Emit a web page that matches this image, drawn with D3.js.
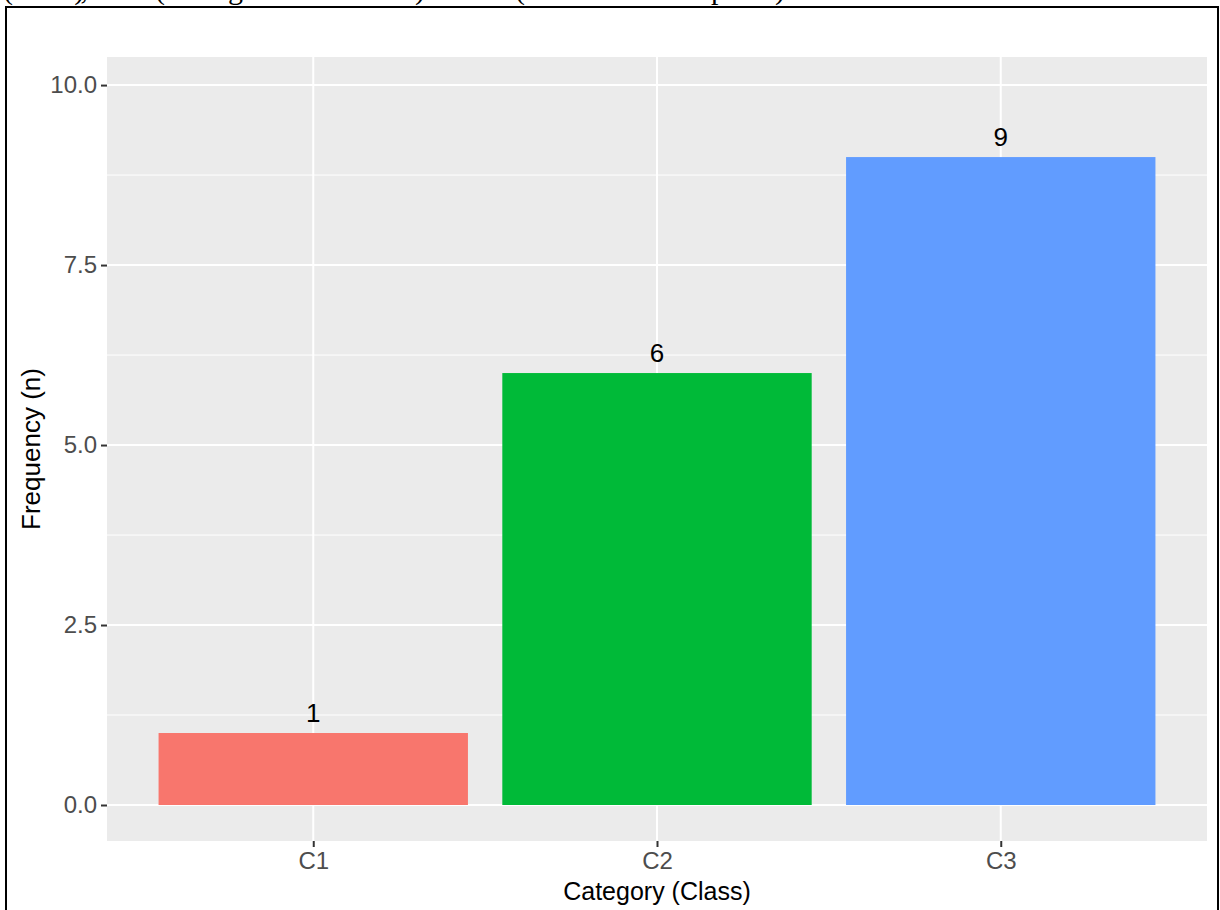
<!DOCTYPE html>
<html>
<head>
<meta charset="utf-8">
<script src="https://cdn.jsdelivr.net/npm/d3@7"></script>
<style>
  html, body { margin: 0; padding: 0; background: #ffffff; }
  svg { display: block; }
</style>
</head>
<body>
<svg id="chart" width="1220" height="910"></svg>
<script>
// ---- data ----
const categories = ["C1", "C2", "C3"];
const frequencies = [1, 6, 9];
const barColors = ["#F8766D", "#00BA38", "#619CFF"];
const yTickValues = [0, 2.5, 5, 7.5, 10];
const yTickLabels = ["0.0", "2.5", "5.0", "7.5", "10.0"];
const yMinorValues = [1.25, 3.75, 6.25, 8.75];
const xTitle = "Category (Class)";
const yTitle = "Frequency (n)";
const captionPieces = ["(C1 low),", "(The gentle middle)", "(The most complete)"];

// ---- layout ----
const svg = d3.select("#chart");
const panel = { left: 107, right: 1207, top: 57, bottom: 841 };
const yLimits = [-0.5, 10.39];

const x = d3.scalePoint().domain(categories).range([panel.left, panel.right]).padding(0.6);
const barW = x.step() * 0.9;
const y = d3.scaleLinear().domain(yLimits).range([panel.bottom, panel.top]);

// cropped caption at top (serif) - only its lowest part shows, as in the source
const capX = [3, 155, 515];
const capW = [85, 270, 270];
svg.selectAll("text.cap").data(captionPieces).join("text")
  .attr("class", "cap")
  .attr("x", (d, i) => capX[i])
  .attr("y", -1)
  .attr("textLength", (d, i) => capW[i])
  .attr("lengthAdjust", "spacing")
  .attr("font-family", "Liberation Serif, Times New Roman, serif")
  .attr("font-size", 30)
  .attr("fill", "#000")
  .text(d => d);

// outer border
svg.append("rect")
  .attr("x", 6).attr("y", 7).attr("width", 1212).attr("height", 910)
  .attr("fill", "#ffffff").attr("stroke", "#000").attr("stroke-width", 2);

// panel background
svg.append("rect")
  .attr("x", panel.left).attr("y", panel.top)
  .attr("width", panel.right - panel.left).attr("height", panel.bottom - panel.top)
  .attr("fill", "#EBEBEB");

// minor gridlines
svg.append("g").selectAll("line").data(yMinorValues).join("line")
  .attr("x1", panel.left).attr("x2", panel.right)
  .attr("y1", d => y(d)).attr("y2", d => y(d))
  .attr("stroke", "#ffffff").attr("stroke-width", 1);

// major gridlines
svg.append("g").selectAll("line").data(yTickValues).join("line")
  .attr("x1", panel.left).attr("x2", panel.right)
  .attr("y1", d => y(d)).attr("y2", d => y(d))
  .attr("stroke", "#ffffff").attr("stroke-width", 2);

svg.append("g").selectAll("line").data(categories).join("line")
  .attr("x1", d => x(d)).attr("x2", d => x(d))
  .attr("y1", panel.top).attr("y2", panel.bottom)
  .attr("stroke", "#ffffff").attr("stroke-width", 2);

// bars
const data = categories.map((c, i) => ({ cat: c, n: frequencies[i], color: barColors[i] }));
svg.append("g").selectAll("rect").data(data).join("rect")
  .attr("x", d => x(d.cat) - barW / 2)
  .attr("width", barW)
  .attr("y", d => y(d.n))
  .attr("height", d => y(0) - y(d.n))
  .attr("fill", d => d.color);

// value labels
svg.append("g").selectAll("text").data(data).join("text")
  .attr("x", d => x(d.cat))
  .attr("y", d => y(d.n) - 11)
  .attr("text-anchor", "middle")
  .attr("font-family", "Liberation Sans, Arial, sans-serif")
  .attr("font-size", 26)
  .attr("fill", "#000")
  .text(d => d.n);

// y axis
const yAxis = d3.axisLeft(y).tickValues(yTickValues)
  .tickFormat((d, i) => yTickLabels[i]).tickSize(6).tickPadding(4);
const gy = svg.append("g").attr("transform", `translate(${panel.left},0)`).call(yAxis);
gy.select(".domain").remove();
gy.selectAll(".tick line").attr("stroke", "#333333").attr("stroke-width", 2);
gy.selectAll(".tick text")
  .attr("font-family", "Liberation Sans, Arial, sans-serif")
  .attr("font-size", 24).attr("fill", "#4D4D4D");

// x axis
const xAxis = d3.axisBottom(x).tickSize(6).tickPadding(5);
const gx = svg.append("g").attr("transform", `translate(0,${panel.bottom})`).call(xAxis);
gx.select(".domain").remove();
gx.selectAll(".tick line").attr("stroke", "#333333").attr("stroke-width", 2);
gx.selectAll(".tick text")
  .attr("font-family", "Liberation Sans, Arial, sans-serif")
  .attr("font-size", 24).attr("fill", "#4D4D4D");

// axis titles
svg.append("text")
  .attr("x", (panel.left + panel.right) / 2).attr("y", 900)
  .attr("text-anchor", "middle")
  .attr("font-family", "Liberation Sans, Arial, sans-serif")
  .attr("font-size", 25).attr("fill", "#000")
  .text(xTitle);

svg.append("text")
  .attr("transform", `translate(40,${(panel.top + panel.bottom) / 2}) rotate(-90)`)
  .attr("text-anchor", "middle")
  .attr("font-family", "Liberation Sans, Arial, sans-serif")
  .attr("font-size", 26).attr("fill", "#000")
  .text(yTitle);
</script>
</body>
</html>
